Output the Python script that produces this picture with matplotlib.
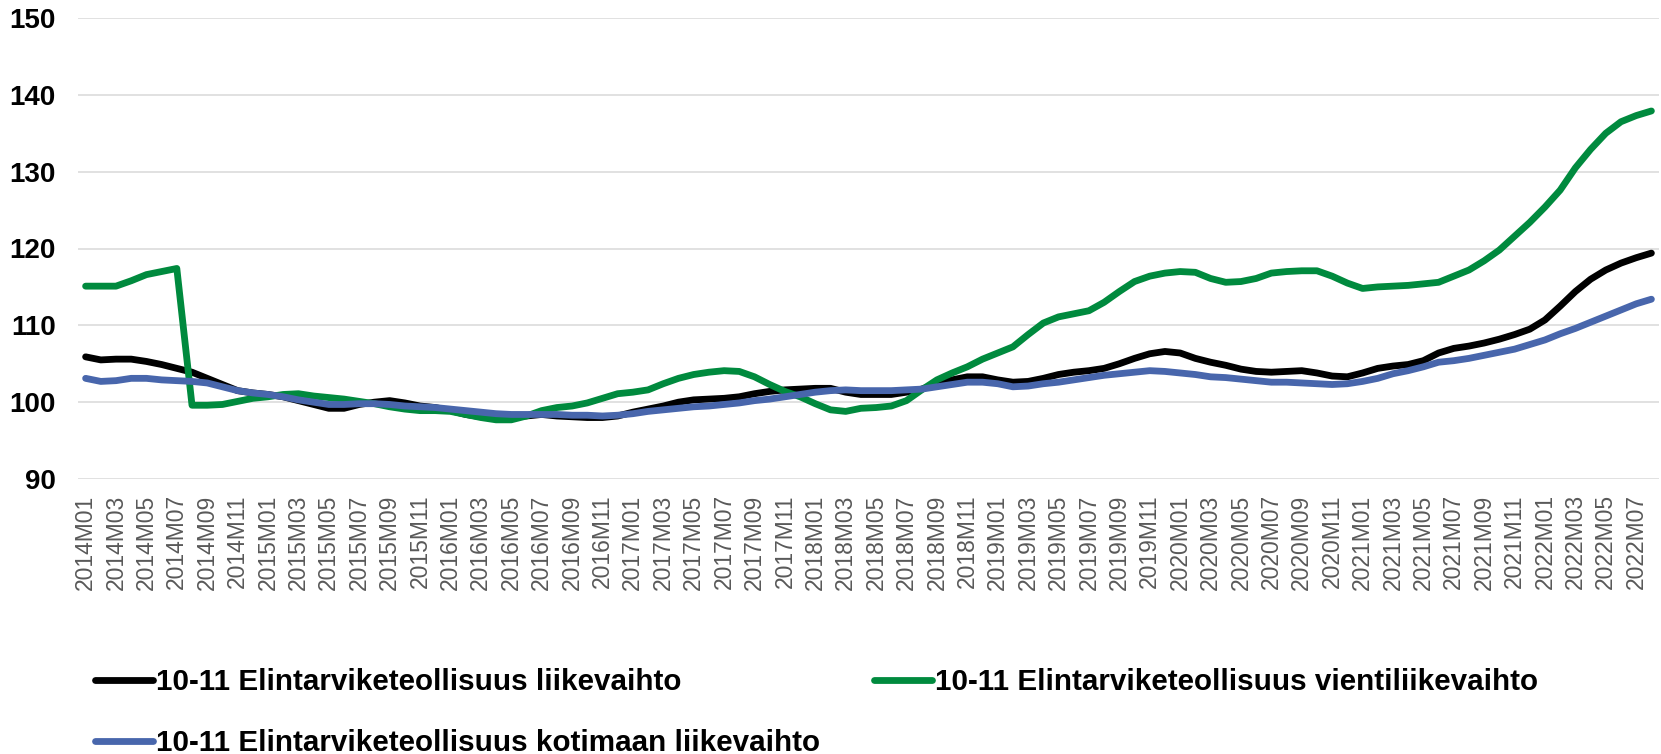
import matplotlib.pyplot as plt
import numpy as np

# kuukaudet 2014M01 - 2022M08
months = [f"{y}M{m:02d}" for y in range(2014, 2023) for m in range(1, 13)][:104]

liikevaihto = [
    105.9, 105.5, 105.6, 105.6, 105.3, 104.9, 104.4, 103.9, 103.1, 102.3, 101.5, 101.2,
    101.0, 100.7, 100.2, 99.7, 99.2, 99.2, 99.7, 100.0, 100.2, 99.9, 99.5, 99.3,
    98.9, 98.4, 98.1, 98.1, 98.1, 98.2, 98.4, 98.2, 98.1, 98.0, 98.0, 98.2,
    98.7, 99.1, 99.5, 100.0, 100.3, 100.4, 100.5, 100.7, 101.1, 101.4, 101.6, 101.7,
    101.8, 101.8, 101.3, 101.0, 101.0, 101.0, 101.3, 101.7, 102.4, 102.9, 103.3, 103.3,
    102.9, 102.6, 102.7, 103.1, 103.6, 103.9, 104.1, 104.4, 105.0, 105.7, 106.3, 106.6,
    106.4, 105.7, 105.2, 104.8, 104.3, 104.0, 103.9, 104.0, 104.1, 103.8, 103.4, 103.3,
    103.8, 104.4, 104.7, 104.9, 105.4, 106.4, 107.0, 107.3, 107.7, 108.2, 108.8, 109.5,
    110.7, 112.5, 114.4, 116.0, 117.2, 118.1, 118.8, 119.4,
]

vienti = [
    115.1, 115.1, 115.1, 115.8, 116.6, 117.0, 117.4, 99.6, 99.6, 99.7, 100.1, 100.5,
    100.7, 101.0, 101.1, 100.8, 100.6, 100.4, 100.1, 99.8, 99.4, 99.1, 98.9, 98.9,
    98.8, 98.4, 98.0, 97.7, 97.7, 98.2, 98.9, 99.3, 99.5, 99.9, 100.5, 101.1,
    101.3, 101.6, 102.4, 103.1, 103.6, 103.9, 104.1, 104.0, 103.3, 102.3, 101.4, 100.7,
    99.8, 99.0, 98.8, 99.2, 99.3, 99.5, 100.2, 101.6, 102.9, 103.8, 104.6, 105.6,
    106.4, 107.2, 108.8, 110.3, 111.1, 111.5, 111.9, 113.0, 114.4, 115.7, 116.4, 116.8,
    117.0, 116.9, 116.1, 115.6, 115.7, 116.1, 116.8, 117.0, 117.1, 117.1, 116.4, 115.5,
    114.8, 115.0, 115.1, 115.2, 115.4, 115.6, 116.4, 117.2, 118.4, 119.8, 121.6, 123.4,
    125.4, 127.6, 130.5, 132.9, 135.0, 136.5, 137.3, 137.9,
]

kotimaa = [
    103.1, 102.7, 102.8, 103.1, 103.1, 102.9, 102.8, 102.7, 102.5, 102.0, 101.5, 101.2,
    101.0, 100.7, 100.3, 100.0, 99.7, 99.7, 99.8, 99.8, 99.7, 99.5, 99.4, 99.3,
    99.1, 98.9, 98.7, 98.5, 98.4, 98.4, 98.4, 98.4, 98.3, 98.3, 98.2, 98.3,
    98.5, 98.8, 99.0, 99.2, 99.4, 99.5, 99.7, 99.9, 100.2, 100.4, 100.7, 101.0,
    101.3, 101.5, 101.6, 101.5, 101.5, 101.5, 101.6, 101.7, 102.0, 102.3, 102.6, 102.6,
    102.4, 102.0, 102.1, 102.4, 102.6, 102.9, 103.2, 103.5, 103.7, 103.9, 104.1, 104.0,
    103.8, 103.6, 103.3, 103.2, 103.0, 102.8, 102.6, 102.6, 102.5, 102.4, 102.3, 102.4,
    102.7, 103.1, 103.7, 104.1, 104.6, 105.2, 105.4, 105.7, 106.1, 106.5, 106.9, 107.5,
    108.1, 108.9, 109.6, 110.4, 111.2, 112.0, 112.8, 113.4,
]

labels = [
    "10-11 Elintarviketeollisuus liikevaihto",
    "10-11 Elintarviketeollisuus vientiliikevaihto",
    "10-11 Elintarviketeollisuus kotimaan liikevaihto",
]
colors = ["#000000", "#008A3E", "#4866AC"]

plt.rcParams['font.family'] = ['Liberation Sans', 'DejaVu Sans']

fig = plt.figure(figsize=(16.61, 7.54), dpi=100)
ax = fig.add_axes([78 / 1661, 1 - 479 / 754, (1659 - 78) / 1661, (479 - 18) / 754])

x = np.arange(len(months))
lines = []
for vals, lab, col in zip([liikevaihto, vienti, kotimaa], labels, colors):
    ln, = ax.plot(x, vals, color=col, lw=4.9, label=lab,
                  solid_capstyle='round', solid_joinstyle='round')
    lines.append(ln)

ax.set_xlim(-0.5, len(months) - 0.5)
ax.set_ylim(90, 150)
ax.set_yticks(range(90, 151, 10))
ax.set_xticks(x[::2])
ax.set_xticklabels(months[::2], rotation=90, color='#595959', fontsize=16.5,
                   ha='center', va='top')
for t in ax.get_yticklabels():
    t.set_fontweight('bold')
    t.set_fontsize(20)
ax.tick_params(axis='y', length=0, pad=16)
ax.tick_params(axis='x', length=0, pad=11)
ax.grid(axis='y', color='#D9D9D9', lw=1.1)
ax.set_axisbelow(True)
for s in ax.spines.values():
    s.set_visible(False)

# jarjestys: vasen sarake musta+sininen, oikea vihrea
fig.legend([lines[0], lines[2], lines[1]], [labels[0], labels[2], labels[1]],
           ncol=2, loc='upper left', bbox_to_anchor=(95 / 1661, 1 - 668 / 754),
           frameon=False, borderpad=0, borderaxespad=0,
           prop={'weight': 'bold', 'size': 21.3},
           handlelength=1.95, handletextpad=0.1, labelspacing=1.12,
           columnspacing=1.85)

plt.savefig('out.png', dpi=100)
